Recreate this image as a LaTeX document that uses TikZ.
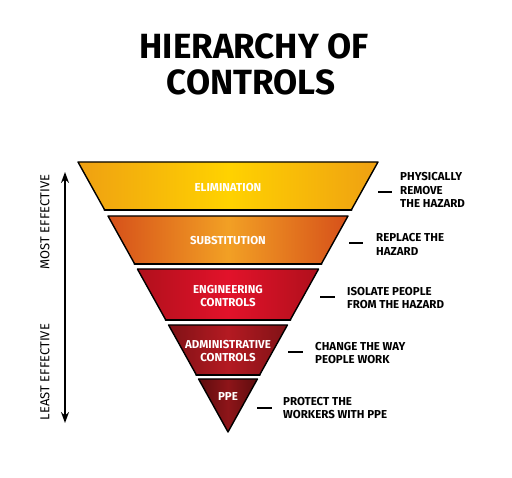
\documentclass[tikz,border=0pt]{standalone}
\usepackage{fontspec}
\setmainfont{Fira Sans}
\usetikzlibrary{arrows.meta}
\definecolor{yEdge}{HTML}{EFA012}
\definecolor{yMid}{HTML}{FFD200}
\definecolor{oEdge}{HTML}{D6501A}
\definecolor{oMid}{HTML}{F2A024}
\definecolor{rEdge}{HTML}{B0101C}
\definecolor{rMid}{HTML}{E2122A}
\definecolor{dEdge}{HTML}{801216}
\definecolor{dMid}{HTML}{B41A22}
\definecolor{pEdge}{HTML}{5E0C0E}
\definecolor{pMid}{HTML}{8E1519}
\begin{document}
\begin{tikzpicture}[x=1pt,y=-1pt,
  bandline/.style={draw=black,line width=1.4pt,line join=round},
  bottomline/.style={draw=black,line width=2.6pt,line cap=round},
  bandtext/.style={text=white,font=\bfseries\fontsize{11.5}{13.5}\selectfont,align=center,inner sep=0pt},
  sidelabel/.style={anchor=west,align=left,inner sep=0pt,font=\bfseries\fontsize{11.5}{13.5}\selectfont},
  dashmark/.style={line width=2pt},
  sidetext/.style={rotate=90,inner sep=0pt,font=\fontsize{13}{14}\selectfont},
  titletext/.style={font=\bfseries\fontsize{35}{38}\selectfont,inner sep=0pt}]
\useasboundingbox[fill=white] (0,0) rectangle (512,478);
% title
\node[titletext] (t1) at (254,46) {HIERARCHY OF};
\node[titletext] (t2) at (251,82) {CONTROLS};
% bands
\path[bandline,left color=yEdge,right color=yEdge,middle color=yMid]
  (78,162) -- (378,162) -- (351.3,210) -- (104.7,210) -- cycle;
\draw[bottomline] (104.7,210) -- (351.3,210);
\path[bandline,left color=oEdge,right color=oEdge,middle color=oMid]
  (108,216) -- (348,216) -- (321.3,264) -- (134.7,264) -- cycle;
\draw[bottomline] (134.7,264) -- (321.3,264);
\path[bandline,left color=rEdge,right color=rEdge,middle color=rMid]
  (137.4,269) -- (318.6,269) -- (290.2,320) -- (165.8,320) -- cycle;
\draw[bottomline] (165.8,320) -- (290.2,320);
\path[bandline,left color=dEdge,right color=dEdge,middle color=dMid]
  (168.6,325) -- (287.4,325) -- (259.6,375) -- (196.4,375) -- cycle;
\draw[bottomline] (196.4,375) -- (259.6,375);
\path[bandline,left color=pEdge,right color=pEdge,middle color=pMid]
  (198.6,379) -- (257.4,379) -- (228,432) -- cycle;
% band texts
\node[bandtext] (b1) at (228,188) {ELIMINATION};
\node[bandtext] (b2) at (228,241) {SUBSTITUTION};
\node[bandtext] (b3) at (228,296) {ENGINEERING\\CONTROLS};
\node[bandtext] (b4) at (228,351) {ADMINISTRATIVE\\CONTROLS};
\node[bandtext] (b5) at (228,397) {PPE};
% right labels
\coordinate (d1a) at (378,192); \coordinate (d1b) at (392,192);
\draw[dashmark] (d1a) -- (d1b);
\node[sidelabel] (l1) at (400,190) {PHYSICALLY\\REMOVE\\THE HAZARD};
\coordinate (d2a) at (349,243); \coordinate (d2b) at (363,243);
\draw[dashmark] (d2a) -- (d2b);
\node[sidelabel] (l2) at (376,244.5) {REPLACE THE\\HAZARD};
\coordinate (d3a) at (320,297); \coordinate (d3b) at (335,297);
\draw[dashmark] (d3a) -- (d3b);
\node[sidelabel] (l3) at (347,298) {ISOLATE PEOPLE\\FROM THE HAZARD};
\coordinate (d4a) at (288,352); \coordinate (d4b) at (303,352);
\draw[dashmark] (d4a) -- (d4b);
\node[sidelabel] (l4) at (315,353) {CHANGE THE WAY\\PEOPLE WORK};
\coordinate (d5a) at (257,408); \coordinate (d5b) at (272,408);
\draw[dashmark] (d5a) -- (d5b);
\node[sidelabel] (l5) at (283,408) {PROTECT THE\\WORKERS WITH PPE};
% left arrow
\coordinate (atop) at (65,172);
\coordinate (abot) at (65,423);
\draw[line width=1.5pt,{Stealth[length=11pt,width=8pt]}-{Stealth[length=11pt,width=8pt]}] (atop) -- (abot);
\node[sidetext] (most) at (45,222) {MOST EFFECTIVE};
\node[sidetext] (least) at (45,372) {LEAST EFFECTIVE};
\end{tikzpicture}
\end{document}
